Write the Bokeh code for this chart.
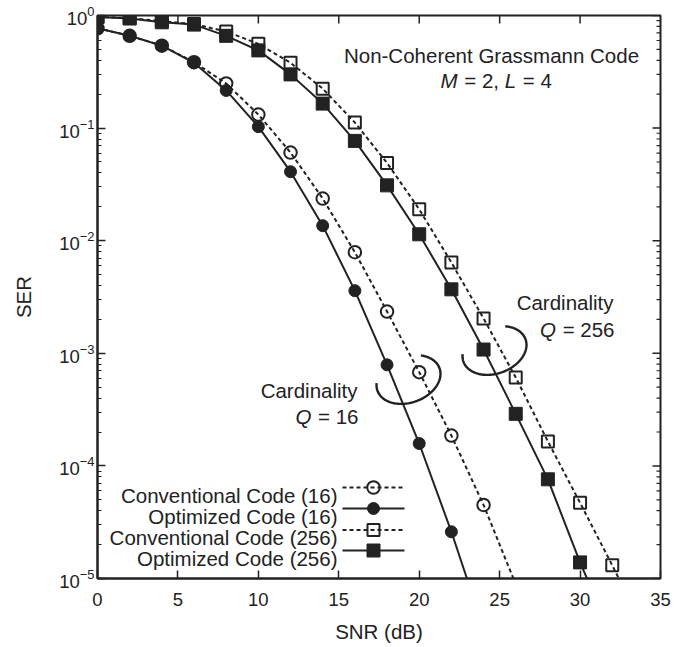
import numpy as np
from bokeh.plotting import figure
from bokeh.models import Range1d, FixedTicker, LogTicker, Label
from bokeh.embed import file_html
from bokeh.resources import INLINE

# ---------------- data ----------------
conv16_snr = [0, 2, 4, 6, 8, 10, 12, 14, 16, 18, 20, 22, 24, 26]
conv16 = [0.77, 0.66, 0.54, 0.385, 0.249, 0.132, 0.0607, 0.0237, 0.0079,
          2.35e-3, 6.8e-4, 1.86e-4, 4.5e-5, 8.9e-6]

opt16_snr = [0, 2, 4, 6, 8, 10, 12, 14, 16, 18, 20, 22, 24]
opt16 = [0.77, 0.66, 0.54, 0.38, 0.216, 0.103, 0.041, 0.0136, 0.0036,
         7.9e-4, 1.58e-4, 2.6e-5, 3.6e-6]

conv256_snr = [0, 2, 4, 6, 8, 10, 12, 14, 16, 18, 20, 22, 24, 26, 28, 30, 32, 34]
conv256 = [0.97, 0.95, 0.89, 0.84, 0.72, 0.56, 0.38, 0.224, 0.112, 0.049,
           0.019, 0.0064, 2.04e-3, 6.1e-4, 1.65e-4, 4.7e-5, 1.31e-5, 3.5e-6]

opt256_snr = [0, 2, 4, 6, 8, 10, 12, 14, 16, 18, 20, 22, 24, 26, 28, 30, 32]
opt256 = [0.97, 0.94, 0.87, 0.83, 0.66, 0.49, 0.30, 0.165, 0.077, 0.031,
          0.0114, 0.0037, 1.08e-3, 2.9e-4, 7.6e-5, 1.39e-5, 3.0e-6]

x_ticks = [0, 5, 10, 15, 20, 25, 30, 35]
legend_labels = ["Conventional Code (16)", "Optimized Code (16)",
                 "Conventional Code (256)", "Optimized Code (256)"]

# ---------------- layout ----------------
W, H = 699, 647
FL, FR, FT, FB = 97, 660, 15, 578
X0, X1 = 0.0, 35.0
Y0, Y1 = 1e-5, 1.0
INK = "#222222"
FONT = "Liberation Sans"


def px2x(px):
    return X0 + (np.asarray(px, dtype=float) - FL) / (FR - FL) * (X1 - X0)


def py2y(py):
    ly0, ly1 = np.log10(Y0), np.log10(Y1)
    return 10 ** (ly1 - (np.asarray(py, dtype=float) - FT) / (FB - FT) * (ly1 - ly0))


p = figure(width=W, height=H, x_range=Range1d(X0, X1), y_range=Range1d(Y0, Y1),
           y_axis_type="log", output_backend="svg", toolbar_location=None,
           min_border_left=FL, min_border_right=W - FR,
           min_border_top=FT, min_border_bottom=H - FB)
p.grid.visible = False
p.outline_line_color = INK
p.outline_line_width = 2
p.background_fill_color = "white"
p.border_fill_color = "white"


def style_axis(ax):
    ax.axis_line_color = INK
    ax.axis_line_width = 2
    ax.major_tick_line_color = INK
    ax.minor_tick_line_color = INK
    ax.major_tick_line_width = 1.5
    ax.minor_tick_line_width = 1.2
    ax.major_tick_in = 8
    ax.major_tick_out = 0
    ax.minor_tick_in = 4
    ax.minor_tick_out = 0
    ax.major_label_text_font = FONT
    ax.major_label_text_color = INK
    ax.major_label_text_font_size = "18.5px"
    ax.axis_label_text_font = FONT
    ax.axis_label_text_font_style = "normal"
    ax.axis_label_text_color = INK
    ax.axis_label_text_font_size = "20.5px"


xa = p.xaxis[0]
style_axis(xa)
xa.ticker = FixedTicker(ticks=x_ticks)
xa.axis_label = "SNR (dB)"
xa.major_label_standoff = 14
xa.axis_label_standoff = 11

ya = p.yaxis[0]
style_axis(ya)
ya.ticker = LogTicker(num_minor_ticks=10)
ya.axis_label = "SER"
ya.major_label_standoff = 3
ya.axis_label_standoff = 21

# ---------------- inward ticks on the top and right frame edges ----------------
top_x = np.array(x_ticks, dtype=float)
top_x = top_x[(top_x > X0) & (top_x < X1)]
p.segment(x0=top_x, y0=[Y1] * len(top_x), x1=top_x,
          y1=[float(py2y(FT + 8))] * len(top_x), line_color=INK, line_width=1.5)

decades = [10.0 ** k for k in range(-5, 1)]
minors = [m * d for d in decades[:-1] for m in range(2, 10)]
xr_major = float(px2x(FR - 8))
xr_minor = float(px2x(FR - 4))
p.segment(x0=[X1] * len(decades), y0=decades, x1=[xr_major] * len(decades),
          y1=decades, line_color=INK, line_width=1.5)
p.segment(x0=[X1] * len(minors), y0=minors, x1=[xr_minor] * len(minors),
          y1=minors, line_color=INK, line_width=1.2)

# ---------------- curves ----------------
series = [
    (conv16_snr, conv16, "dashed", "circle", False, 12.5),
    (opt16_snr, opt16, "solid", "circle", True, 12),
    (conv256_snr, conv256, "dashed", "square", False, 12),
    (opt256_snr, opt256, "solid", "square", True, 13),
]

for xs, ys, dash, marker, filled, size in series:
    dash_val = "4 3" if dash == "dashed" else "solid"
    p.line(xs, ys, line_color=INK, line_width=2, line_dash=dash_val)
for xs, ys, dash, marker, filled, size in series:
    xs_a = np.asarray(xs)
    ys_a = np.asarray(ys)
    m = ys_a >= Y0
    p.scatter(xs_a[m], ys_a[m], marker=marker, size=size,
              line_color=INK, line_width=2 if not filled else 1,
              fill_color=INK if filled else None,
              fill_alpha=1 if filled else 0)

# ---------------- cardinality loops ----------------
def loop(cx, cy, a, b, ang, t0, t1):
    t = np.radians(np.linspace(t0, t1, 90))
    th = np.radians(ang)
    ux, uy = np.cos(th), -np.sin(th)
    vx, vy = np.sin(th), np.cos(th)
    px = cx + a * np.cos(t) * ux + b * np.sin(t) * vx
    py = cy + a * np.cos(t) * uy + b * np.sin(t) * vy
    return px2x(px), py2y(py)

for cx, cy, t0 in [(408, 379, -53), (494, 350, -56)]:
    lx, ly = loop(cx, cy, 33, 23, 20, t0, 199)
    p.line(lx, ly, line_color=INK, line_width=2.4)

# ---------------- texts ----------------
FS = 20.5
SP = 0.278 * FS   # width of a space


def label(px, py, text, align="left", style="normal"):
    p.add_layout(Label(x=float(px2x(px)), y=float(py2y(py)), text=text,
                       text_font=FONT, text_font_size="%.1fpx" % FS,
                       text_font_style=style, text_color=INK,
                       text_align=align, text_baseline="alphabetic"))


label(491, 55, "Non-Coherent Grassmann Code", align="center")
x = 440
label(x, 80, "M", style="italic"); x += 0.833 * FS + SP + 1
label(x, 80, "= 2,"); x += (0.584 + 0.278 + 0.556 + 0.278) * FS + SP
label(x, 80, "L", style="italic"); x += 0.556 * FS + SP + 1
label(x, 80, "= 4")

label(613, 302, "Cardinality", align="right")
label(614, 329, "= 256", align="right")
label(614 - 2.53 * FS - SP - 1, 329, "Q", align="right", style="italic")

label(357, 390, "Cardinality", align="right")
label(358, 416, "= 16", align="right")
label(358 - 1.974 * FS - SP - 1, 416, "Q", align="right", style="italic")

# ---------------- legend (label left, sample right) ----------------
row_line_y = [487, 508, 529.5, 550]
for i, (xs, ys, dash, marker, filled, size) in enumerate(series):
    ly = row_line_y[i]
    label(337, ly + 7.5, legend_labels[i], align="right")
    dash_val = "4 3" if dash == "dashed" else "solid"
    p.line(px2x([342, 404]), py2y([ly, ly]), line_color=INK, line_width=2,
           line_dash=dash_val)
    p.scatter(px2x([373]), py2y([ly]), marker=marker, size=size,
              line_color=INK, line_width=2 if not filled else 1,
              fill_color=INK if filled else None,
              fill_alpha=1 if filled else 0)

open("out.html", "w").write(file_html(p, INLINE))
